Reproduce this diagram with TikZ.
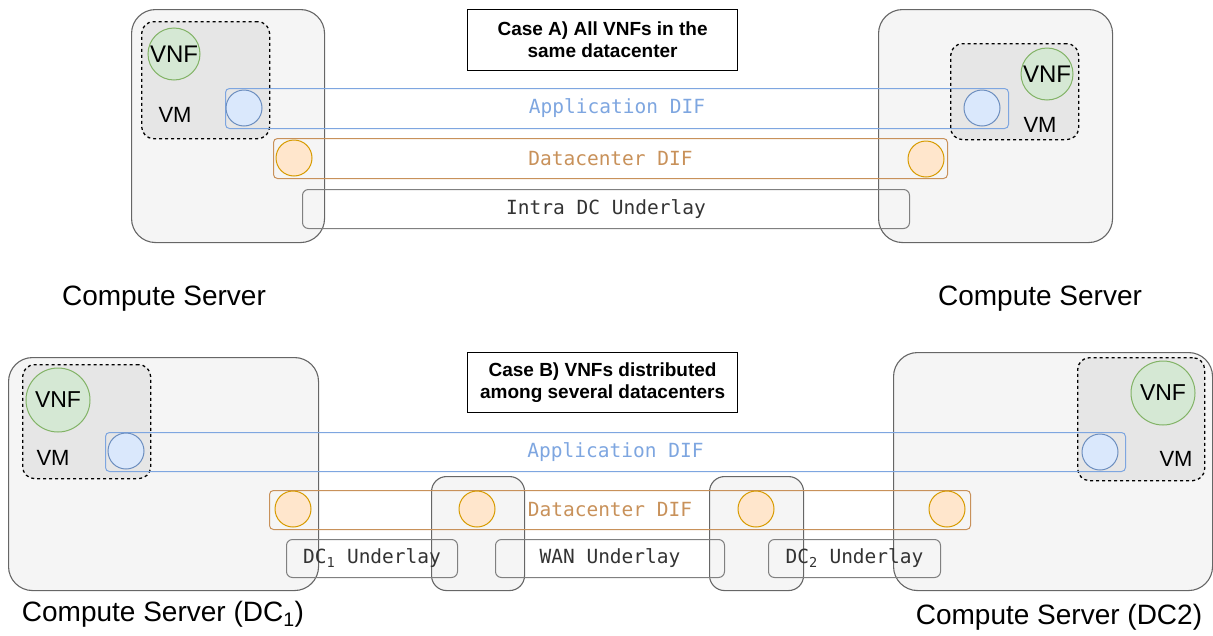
\documentclass[tikz,border=0pt]{standalone}
\usepackage{fontspec}
\setmainfont{Liberation Sans}
\setmonofont{DejaVu Sans Mono}
\usetikzlibrary{positioning}
\definecolor{srvfill}{HTML}{F5F5F5}
\definecolor{srvline}{HTML}{666666}
\definecolor{vmfill}{HTML}{E6E6E6}
\definecolor{vnffill}{HTML}{D5E8D4}
\definecolor{vnfline}{HTML}{82B366}
\definecolor{appfill}{HTML}{DAE8FC}
\definecolor{appline}{HTML}{6C8EBF}
\definecolor{appdifc}{HTML}{7EA6E0}
\definecolor{dcfill}{HTML}{FFE6CC}
\definecolor{dcline}{HTML}{D79B00}
\definecolor{dcdifc}{HTML}{C8915A}
\definecolor{ulline}{HTML}{808080}
\definecolor{ultext}{HTML}{333333}
\newcommand{\diffont}{\fontsize{19.5}{20}\ttfamily}
\tikzset{
  server/.style={draw=srvline, fill=srvfill, rounded corners=24pt, line width=1.1pt,
    anchor=north west, inner sep=0pt},
  midbox/.style={server, rounded corners=15pt},
  vmbox/.style={draw=black, fill=vmfill, dash pattern=on 3pt off 3pt, line width=1.3pt,
    rounded corners=12pt, anchor=north west, inner sep=0pt},
  vnf/.style={circle, draw=vnfline, fill=vnffill, line width=1pt, inner sep=0pt,
    font=\fontsize{24}{24}\selectfont},
  appport/.style={circle, draw=appline, fill=appfill, line width=1pt, minimum size=36pt, inner sep=0pt},
  dcport/.style={circle, draw=dcline, fill=dcfill, line width=1pt, minimum size=36pt, inner sep=0pt},
  difbox/.style={rounded corners=4pt, line width=1pt, anchor=north west, inner sep=0pt, font=\diffont},
  appdif/.style={difbox, draw=appdifc, text=appdifc},
  dcdif/.style={difbox, draw=dcdifc, text=dcdifc},
  underlay/.style={difbox, draw=ulline, text=ultext, rounded corners=6pt},
  casebox/.style={draw=black, fill=white, line width=1.2pt, anchor=north west, inner sep=0pt,
    align=center, font=\fontsize{19}{22}\selectfont\bfseries},
  vmlabel/.style={inner sep=0pt, font=\fontsize{22}{22}\selectfont},
  srvlabel/.style={inner sep=0pt, font=\fontsize{28}{28}\selectfont}
}

\begin{document}
\begin{tikzpicture}[x=1pt, y=-1pt]
  \useasboundingbox (0,0) rectangle (1213,635);

  % Case A: one datacenter
  \node[server, minimum width=193pt, minimum height=233pt] (srv-a-1) at (131,9) {};
  \node[server, minimum width=234pt, minimum height=233pt] (srv-a-2) at (878,9) {};

  \node[vmbox, minimum width=128pt, minimum height=117pt] (vm-a-1) at (141,21) {};
  \node[vmbox, minimum width=128pt, minimum height=96pt] (vm-a-2) at (950,43) {};
  \node[vnf, minimum size=52pt] (vnf-a-1) at (174,54) {VNF};
  \node[vnf, minimum size=52pt] (vnf-a-2) at (1047,74) {VNF};
  \node[vmlabel] (vml-a-1) at (175,115) {VM};
  \node[vmlabel] (vml-a-2) at (1040,125) {VM};

  \node[appdif, minimum width=783pt, minimum height=40pt] (app-a) at (225,88) {Application DIF};
  \node[dcdif, minimum width=674pt, minimum height=40pt] (dc-a) at (273,138) {Datacenter DIF};
  \node[appport] (ap-a-1) at (244,108) {};
  \node[appport] (ap-a-2) at (982,108) {};
  \node[dcport] (dp-a-1) at (294,158) {};
  \node[dcport] (dp-a-2) at (926,159) {};
  \node[underlay, minimum width=607pt, minimum height=39pt] (ul-a) at (302,189) {Intra DC Underlay};

  \node[casebox, minimum width=270pt, minimum height=61pt] (case-a) at (467,9)
    {Case A) All VNFs in the\\same datacenter};
  \node[srvlabel] (lbl-a-1) at (164,299) {Compute Server};
  \node[srvlabel] (lbl-a-2) at (1040,299) {Compute Server};

  % Case B: several datacenters
  \node[server, minimum width=310pt, minimum height=233pt] (srv-b-1) at (8,357) {};
  \node[server, minimum width=319pt, minimum height=238pt] (srv-b-2) at (893,352) {};
  \node[midbox, minimum width=93pt, minimum height=114pt] (gw-b-1) at (431,476) {};
  \node[midbox, minimum width=94pt, minimum height=114pt] (gw-b-2) at (709,476) {};

  \node[vmbox, minimum width=128pt, minimum height=114pt] (vm-b-1) at (22,364) {};
  \node[vmbox, minimum width=127pt, minimum height=123pt] (vm-b-2) at (1077,357) {};
  \node[vnf, minimum size=64pt, font=\fontsize{23}{23}\selectfont] (vnf-b-1) at (58,400) {VNF};
  \node[vnf, minimum size=64pt, font=\fontsize{23}{23}\selectfont] (vnf-b-2) at (1163,393) {VNF};
  \node[vmlabel] (vml-b-1) at (53,458) {VM};
  \node[vmlabel] (vml-b-2) at (1176,459) {VM};

  \node[appdif, minimum width=1020pt, minimum height=39pt] (app-b) at (105,432) {Application DIF};
  \node[dcdif, minimum width=701pt, minimum height=39pt,
    label={[xshift=-10pt, text=dcdifc, font=\diffont]center:Datacenter DIF}] (dc-b) at (269,490) {};
  \node[appport] (ap-b-1) at (126,451) {};
  \node[appport] (ap-b-2) at (1100,452) {};
  \node[dcport] (dp-b-1) at (293,509) {};
  \node[dcport] (dp-b-2) at (477,509) {};
  \node[dcport] (dp-b-3) at (756,509) {};
  \node[dcport] (dp-b-4) at (947,509) {};

  \node[underlay, minimum width=171pt, minimum height=38pt] (ul-b-1) at (286,539) {DC\textsubscript{1} Underlay};
  \node[underlay, minimum width=229pt, minimum height=38pt] (ul-b-2) at (495,539) {WAN Underlay};
  \node[underlay, minimum width=172pt, minimum height=38pt] (ul-b-3) at (768,539) {DC\textsubscript{2} Underlay};

  \node[casebox, minimum width=270pt, minimum height=60pt] (case-b) at (467,352)
    {Case B) VNFs distributed\\among several datacenters};
  \node[srvlabel] (lbl-b-1) at (163,614) {Compute Server (DC\textsubscript{1})};
  \node[srvlabel] (lbl-b-2) at (1059,617) {Compute Server (DC2)};
\end{tikzpicture}
\end{document}
